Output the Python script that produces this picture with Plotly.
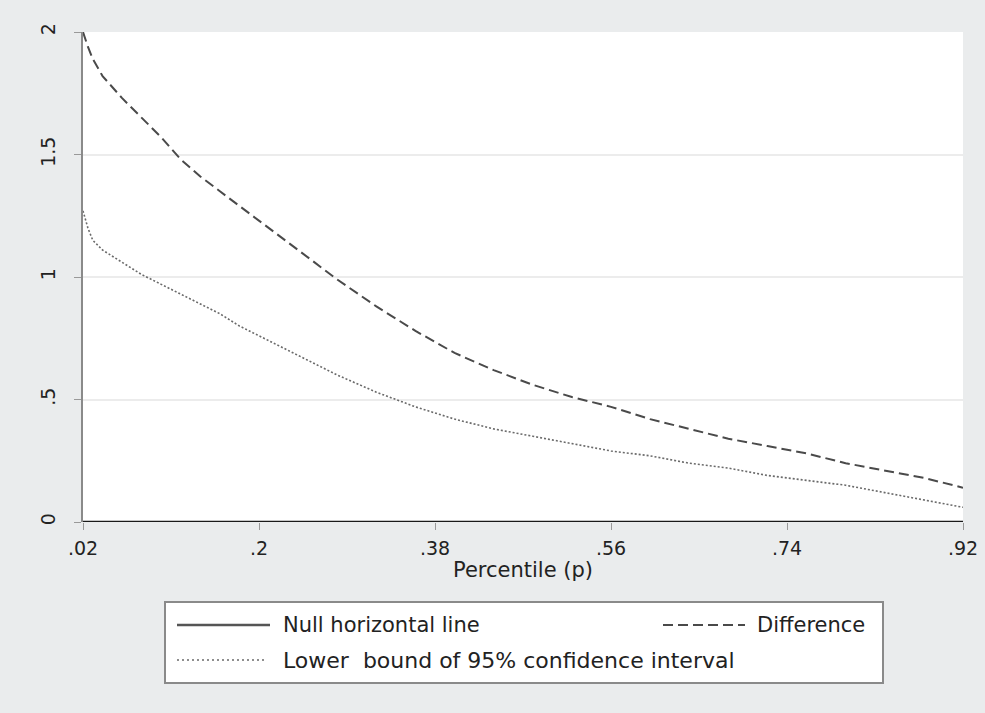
import plotly.graph_objects as go

# Data
p_vals = [0.02, 0.025, 0.03, 0.04, 0.06, 0.08, 0.10, 0.12, 0.14, 0.16, 0.18, 0.20,
          0.24, 0.28, 0.32, 0.36, 0.40, 0.44, 0.48, 0.52, 0.56, 0.60, 0.64, 0.68,
          0.72, 0.76, 0.80, 0.84, 0.88, 0.92]
difference = [2.00, 1.94, 1.89, 1.82, 1.73, 1.65, 1.57, 1.48, 1.41, 1.35, 1.29, 1.23,
              1.11, 0.99, 0.88, 0.78, 0.69, 0.62, 0.56, 0.51, 0.47, 0.42, 0.38, 0.34,
              0.31, 0.28, 0.24, 0.21, 0.18, 0.14]
lower_bound = [1.27, 1.20, 1.15, 1.11, 1.06, 1.01, 0.97, 0.93, 0.89, 0.85, 0.80, 0.76,
               0.68, 0.60, 0.53, 0.47, 0.42, 0.38, 0.35, 0.32, 0.29, 0.27, 0.24, 0.22,
               0.19, 0.17, 0.15, 0.12, 0.09, 0.06]
null_x = [0.02, 0.92]
null_y = [0, 0]

x_ticks = [0.02, 0.2, 0.38, 0.56, 0.74, 0.92]
x_ticklabels = [".02", ".2", ".38", ".56", ".74", ".92"]
y_ticks = [0, 0.5, 1, 1.5, 2]
y_ticklabels = ["0", ".5", "1", "1.5", "2"]

legend_labels = ["Null horizontal line", "Difference", "Lower  bound of 95% confidence interval"]

FONT = "DejaVu Sans, Liberation Sans, Arial, sans-serif"

fig = go.Figure()
fig.add_trace(go.Scatter(x=null_x, y=null_y, mode="lines", name=legend_labels[0],
                         line=dict(color="#1a1a1a", width=2.5), showlegend=False))
fig.add_trace(go.Scatter(x=p_vals, y=difference, mode="lines", name=legend_labels[1],
                         line=dict(color="#4a4a4a", width=2, dash="10px,5px"), showlegend=False))
fig.add_trace(go.Scatter(x=p_vals, y=lower_bound, mode="lines", name=legend_labels[2],
                         line=dict(color="#6a6a6a", width=1.6, dash="2px,2px"), showlegend=False))

W, H = 985, 713
L, R, T, B = 83, 22, 32, 191
pw, ph = W - L - R, H - T - B

def px2paper_x(x):
    return (x - L) / pw

def px2paper_y(y):
    return (H - B - y) / ph

# Manual legend box
fig.add_shape(type="rect", xref="paper", yref="paper",
              x0=px2paper_x(165), x1=px2paper_x(883), y0=px2paper_y(683), y1=px2paper_y(602),
              line=dict(color="#8a8a8a", width=2), fillcolor="white", layer="above")
rows = [(625, 177, 270, 283, dict(color="#555555", width=2.5), 21),
        (625, 663, 745, 757, dict(color="#4a4a4a", width=2, dash="10px,5px"), 21),
        (660, 177, 266, 283, dict(color="#6a6a6a", width=1.6, dash="2px,3px"), 22)]
for (yy, x0, x1, tx, ln, fs), label in zip(rows, legend_labels):
    fig.add_shape(type="line", xref="paper", yref="paper",
                  x0=px2paper_x(x0), x1=px2paper_x(x1), y0=px2paper_y(yy), y1=px2paper_y(yy),
                  line=ln, layer="above")
    fig.add_annotation(xref="paper", yref="paper", x=px2paper_x(tx), y=px2paper_y(yy),
                       text=label, showarrow=False, xanchor="left", yanchor="middle",
                       xshift=-2, font=dict(family=FONT, size=fs, color="#222"))

fig.update_layout(
    width=W, height=H,
    margin=dict(l=L, r=R, t=T, b=B),
    paper_bgcolor="#eaeced",
    plot_bgcolor="white",
    font=dict(family=FONT, size=19, color="#222"),
    xaxis=dict(range=[0.02, 0.92], tickvals=x_ticks, ticktext=x_ticklabels,
               showgrid=False, zeroline=False, showline=False, automargin=False,
               ticks="outside", ticklen=7, tickcolor="#999", tickwidth=1,
               ticklabelstandoff=2,
               tickfont=dict(size=19),
               title=dict(text="Percentile (p)", font=dict(size=21), standoff=4)),
    yaxis=dict(range=[0, 2], tickvals=y_ticks, ticktext=y_ticklabels, automargin=False,
               showgrid=True, gridcolor="#ececec", gridwidth=2, zeroline=False,
               showline=True, linecolor="#8a8a8a", linewidth=1.5,
               ticks="outside", ticklen=7, tickcolor="#999", tickwidth=1,
               ticklabelstandoff=12,
               tickangle=-90, tickfont=dict(size=19)),
)

fig.write_html("out.html")
